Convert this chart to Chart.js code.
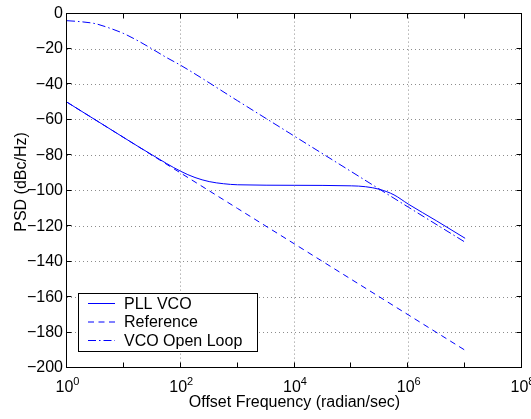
<!DOCTYPE html>
<html>
<head>
<meta charset="utf-8">
<script src="https://cdn.jsdelivr.net/npm/chart.js@4.4.1/dist/chart.umd.min.js"></script>
<style>
  html, body { margin: 0; padding: 0; background: #fff; }
</style>
</head>
<body>
<canvas id="psd" width="531" height="419"></canvas>
<script>
// data (offset frequency in rad/s, PSD in dBc/Hz)
const pllFreq = [1, 10, 31.6, 100, 178, 316, 562, 1000, 10000, 100000, 178000, 316000, 562000, 1000000, 3160000, 10000000];
const pllPsd  = [-50, -70, -79.8, -89, -92.5, -94.8, -96, -96.6, -96.9, -97.2, -97.7, -99.2, -102.3, -107.5, -117, -126.8];

const refFreq = [1, 10, 100, 1000, 10000, 100000, 1000000, 10000000];
const refPsd  = [-50, -70, -90, -110, -130, -150, -170, -190];

const vcoFreq = [1, 1.78, 3.16, 5.62, 10, 17.8, 31.6, 56.2, 100, 1000, 10000, 100000, 1000000, 10000000];
const vcoPsd  = [-4, -4.6, -5.7, -8.2, -11.3, -15.4, -20, -24.8, -29.2, -49.2, -69.2, -89.2, -109.2, -129];

const decades = [1, 10, 100, 1000, 10000, 100000, 1000000, 10000000, 100000000];
const yTicks = [0, -20, -40, -60, -80, -100, -120, -140, -160, -180, -200];

const FONT = "'Liberation Sans', Arial, Helvetica, sans-serif";
const BLUE = '#0000ff';
const GRID = '#8c8c8c';

Chart.defaults.font.family = FONT;
Chart.defaults.color = '#000';

function pts(xs, ys) {
  return xs.map((v, i) => ({ x: v, y: ys[i] }));
}

// box, inward ticks, x labels with exponents, y title, legend
const matlabLook = {
  id: 'matlabLook',
  afterDraw(chart) {
    const { ctx, chartArea: a, scales } = chart;
    const xs = scales.x, ys = scales.y;
    const L = Math.round(a.left) - 0.5, R = Math.round(a.right) - 0.5;
    const T = Math.round(a.top) - 0.5, B = Math.round(a.bottom) - 0.5;
    ctx.save();
    ctx.strokeStyle = '#000';
    ctx.lineWidth = 1;
    ctx.setLineDash([]);
    ctx.strokeRect(L, T, R - L, B - T);

    ctx.beginPath();
    decades.forEach(v => {
      const px = Math.round(xs.getPixelForValue(v)) - 0.5;
      ctx.moveTo(px, B); ctx.lineTo(px, B - 5);
      ctx.moveTo(px, T); ctx.lineTo(px, T + 5);
    });
    yTicks.forEach(v => {
      const py = Math.round(ys.getPixelForValue(v)) - 0.5;
      ctx.moveTo(L, py); ctx.lineTo(L + 5, py);
      ctx.moveTo(R, py); ctx.lineTo(R - 5, py);
    });
    ctx.stroke();

    // x tick labels 10^n
    ctx.fillStyle = '#000';
    ctx.textBaseline = 'alphabetic';
    decades.forEach((v, e) => {
      if (e % 2) return;
      const px = xs.getPixelForValue(v);
      ctx.font = '16px ' + FONT;
      const w1 = ctx.measureText('10').width;
      ctx.font = '11px ' + FONT;
      const w2 = ctx.measureText(String(e)).width;
      const x0 = px - (w1 + w2) / 2 + 0.5;
      ctx.font = '16px ' + FONT;
      ctx.textAlign = 'left';
      ctx.fillText('10', x0, 392);
      ctx.font = '11px ' + FONT;
      ctx.fillText(String(e), x0 + w1, 385);
    });

    // y title, a bit above the axis centre like the original
    ctx.save();
    ctx.translate(26, 182);
    ctx.rotate(-Math.PI / 2);
    ctx.font = '16px ' + FONT;
    ctx.textAlign = 'center';
    ctx.textBaseline = 'alphabetic';
    ctx.fillText('PSD (dBc/Hz)', 0, 0);
    ctx.restore();

    // legend
    const lx = 78.5, ly = 293.5, lw = 179, lh = 58;
    ctx.fillStyle = '#fff';
    ctx.fillRect(lx, ly, lw, lh);
    ctx.strokeStyle = '#000';
    ctx.strokeRect(lx, ly, lw, lh);
    ctx.font = '16px ' + FONT;
    ctx.textBaseline = 'middle';
    ctx.textAlign = 'left';
    chart.data.datasets.forEach((ds, i) => {
      const rowY = 303.5 + i * 18.5;
      ctx.strokeStyle = ds.borderColor;
      ctx.lineWidth = ds.borderWidth;
      ctx.setLineDash(ds.borderDash || []);
      ctx.beginPath();
      ctx.moveTo(88, rowY);
      ctx.lineTo(115, rowY);
      ctx.stroke();
      ctx.setLineDash([]);
      ctx.fillStyle = '#000';
      ctx.fillText(ds.label, 124, rowY + 1);
    });
    ctx.restore();
  }
};

new Chart(document.getElementById('psd'), {
  type: 'line',
  data: {
    datasets: [
      { label: 'PLL VCO', data: pts(pllFreq, pllPsd), borderColor: BLUE, borderWidth: 1,
        pointRadius: 0, cubicInterpolationMode: 'monotone', fill: false },
      { label: 'Reference', data: pts(refFreq, refPsd), borderColor: BLUE, borderWidth: 1,
        borderDash: [6, 4.5], pointRadius: 0, fill: false },
      { label: 'VCO Open Loop', data: pts(vcoFreq, vcoPsd), borderColor: BLUE, borderWidth: 1,
        borderDash: [8, 3, 1.5, 3], pointRadius: 0, cubicInterpolationMode: 'monotone', fill: false }
    ]
  },
  options: {
    responsive: false,
    animation: false,
    devicePixelRatio: 1,
    layout: { padding: { left: 0, right: 9, top: 10, bottom: 0 } },
    plugins: { legend: { display: false }, tooltip: { enabled: false } },
    scales: {
      x: {
        type: 'logarithmic',
        min: 1,
        max: 100000000,
        afterBuildTicks: s => { s.ticks = decades.map(v => ({ value: v })); },
        afterFit: s => { s.height = 51; },
        ticks: { display: false },
        grid: {
          drawTicks: false,
          lineWidth: 1,
          color: c => {
            const e = Math.round(Math.log10(c.tick.value));
            return (e % 2 === 0 && e > 0 && e < 8) ? GRID : 'rgba(0,0,0,0)';
          }
        },
        border: { display: false, dash: [1, 3] },
        title: { display: true, text: 'Offset Frequency (radian/sec)', color: '#000',
                 font: { size: 16 }, padding: { top: 0, bottom: 7 } }
      },
      y: {
        min: -200,
        max: 0,
        afterBuildTicks: s => { s.ticks = yTicks.map(v => ({ value: v })); },
        afterFit: s => { s.width = 67; },
        ticks: {
          padding: 4,
          color: '#000',
          font: { size: 16 },
          callback: v => v < 0 ? '\u2212' + Math.abs(v) : String(v)
        },
        grid: {
          drawTicks: false,
          lineWidth: 1,
          color: c => (c.tick.value === 0 || c.tick.value === -200) ? 'rgba(0,0,0,0)' : GRID
        },
        border: { display: false, dash: [1, 3] },
        title: { display: false }
      }
    }
  },
  plugins: [matlabLook]
});
</script>
</body>
</html>
